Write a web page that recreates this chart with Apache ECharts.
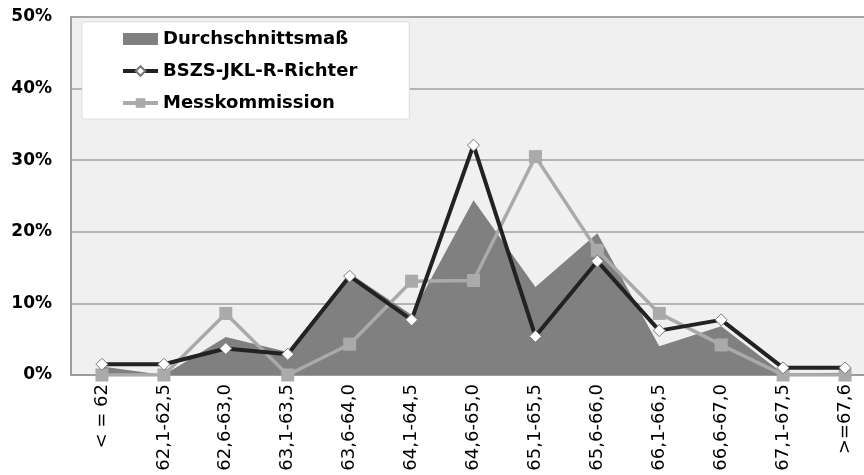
<!DOCTYPE html>
<html>
<head>
<meta charset="utf-8">
<script src="https://cdn.jsdelivr.net/npm/echarts@6/dist/echarts.min.js"></script>
<style>
  html, body { margin: 0; padding: 0; background: #fff; overflow: hidden; }
  #chart { width: 880px; height: 475px; }
</style>
</head>
<body>
<div id="chart"></div>
<script>
// Kategorien (Maßklassen)
var categories = ["< = 62", "62,1-62,5", "62,6-63,0", "63,1-63,5", "63,6-64,0", "64,1-64,5",
  "64,6-65,0", "65,1-65,5", "65,6-66,0", "66,1-66,5", "66,6-67,0", "67,1-67,5", ">=67,6"]

// Anteile in %
var durchschnitt = [1.2, 0, 5.3, 3.2, 14.2, 8.4, 24.4, 12.3, 19.8, 4.0, 6.8, 0.2, 0.3]
var richter = [1.5, 1.5, 3.7, 2.9, 13.8, 7.7, 32.1, 5.4, 15.9, 6.2, 7.7, 1.0, 1.0]
var messkommission = [0, 0, 8.6, 0, 4.3, 13.1, 13.2, 30.5, 17.4, 8.6, 4.2, 0, 0]

var seriesNames = ["Durchschnittsmaß", "BSZS-JKL-R-Richter", "Messkommission"]

// Plotfläche läuft rechts über den Bildrand hinaus (Bild ist abgeschnitten)
var myChart = echarts.init(document.getElementById('chart'))

var option = {
  animation: false,
  textStyle: { fontFamily: 'DejaVu Sans, sans-serif' },
  grid: {
    left: 71, top: 17, right: 4, bottom: 100,
    show: true,
    backgroundColor: '#f0f0f0',
    borderColor: '#999',
    borderWidth: 1.5
  },
  legend: {
    orient: 'vertical',
    left: 82, top: 22,
    padding: [8, 52, 7, 39],
    itemGap: 14,
    itemWidth: 35,
    itemHeight: 12,
    backgroundColor: '#fff',
    borderColor: '#ddd',
    borderWidth: 1,
    textStyle: { fontSize: 18, fontWeight: 'bold', color: '#000' },
    data: [
      { name: seriesNames[0], icon: 'rect', itemStyle: { color: '#808080' } },
      { name: seriesNames[1], lineStyle: { width: 4 } },
      { name: seriesNames[2], lineStyle: { width: 4 } }
    ]
  },
  xAxis: {
    type: 'category',
    data: categories,
    boundaryGap: true,
    axisLine: { lineStyle: { color: '#999', width: 1.5 } },
    axisTick: { show: false },
    axisLabel: { rotate: 90, fontSize: 18, color: '#000', margin: 9, interval: 0 }
  },
  yAxis: {
    type: 'value',
    min: 0, max: 50, interval: 10,
    axisLine: { show: true, lineStyle: { color: '#999', width: 1.5 } },
    axisLabel: { formatter: '{value}%', fontSize: 17, fontWeight: 'bold', color: '#000', margin: 19 },
    splitLine: { lineStyle: { color: '#a0a0a0', width: 1.5 } }
  },
  series: [
    {
      name: seriesNames[0],
      type: 'line',
      data: durchschnitt,
      symbol: 'none',
      lineStyle: { width: 0, color: '#808080' },
      itemStyle: { color: '#808080' },
      areaStyle: { color: '#808080', opacity: 1 },
      z: 1
    },
    {
      name: seriesNames[2],
      type: 'line',
      data: messkommission,
      symbol: 'rect',
      symbolSize: 13,
      lineStyle: { width: 3.5, color: '#aaaaaa' },
      itemStyle: { color: '#aaaaaa', borderWidth: 0 },
      z: 2
    },
    {
      name: seriesNames[1],
      type: 'line',
      data: richter,
      symbol: 'diamond',
      symbolSize: 12,
      lineStyle: { width: 4, color: '#222' },
      itemStyle: { color: '#fff', borderColor: '#777', borderWidth: 1 },
      z: 3
    }
  ]
}

myChart.setOption(option)
</script>
</body>
</html>
